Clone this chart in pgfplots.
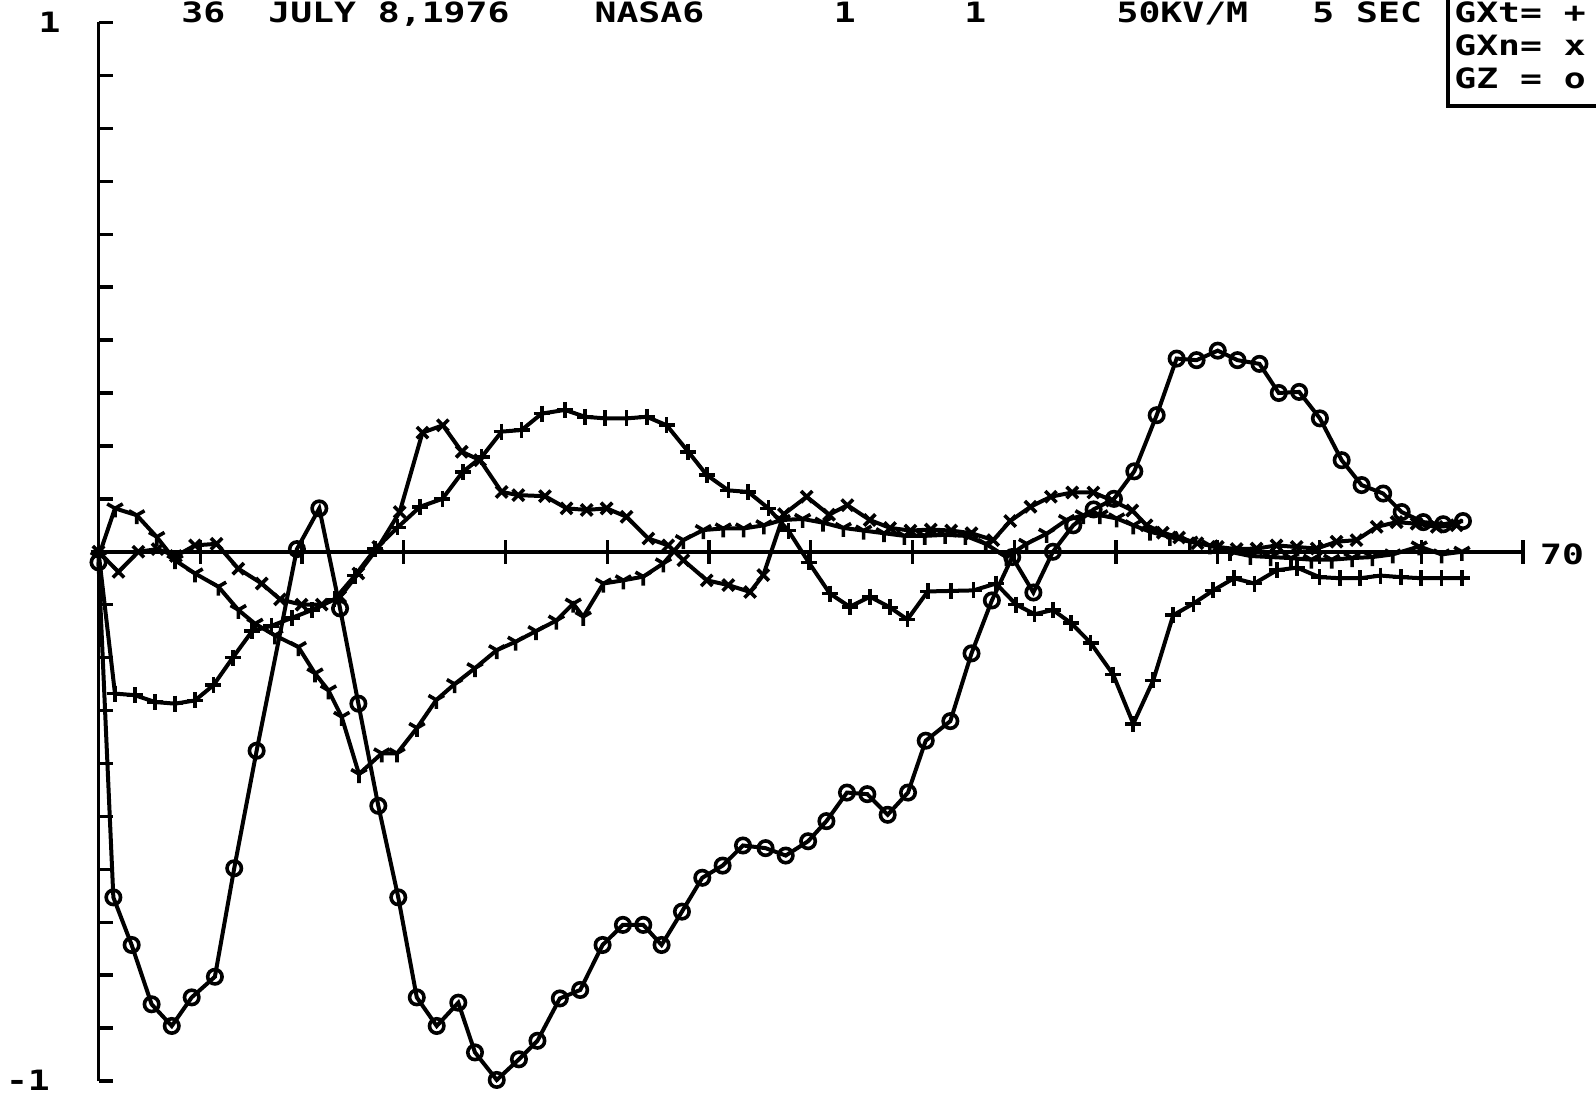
\documentclass[border=0pt]{standalone}
\usepackage{fontspec}
\usepackage{pgfplots}
\pgfplotsset{compat=1.18}
\usetikzlibrary{plotmarks}
\newfontfamily\plotfont[FakeStretch=1.3]{DejaVu Sans Mono}
\newcommand{\plf}{\plotfont\bfseries\fontsize{14}{16}\selectfont}
\begin{document}
\begin{tikzpicture}
\path (0pt,0pt) rectangle (798pt,547pt);
\begin{axis}[
  at={(49.25pt,6.5pt)}, anchor=south west,
  scale only axis, width=712.25pt, height=529.25pt,
  xmin=0, xmax=70, ymin=-1, ymax=1,
  hide axis, clip=false,
]
% axes
\draw[line width=1.8pt] (axis cs:0,-1) -- (axis cs:0,1);
\draw[line width=1.8pt] (axis cs:0,0) -- (axis cs:70,0);
\pgfplotsinvokeforeach{-1,-0.9,-0.8,-0.7,-0.6,-0.5,-0.4,-0.3,-0.2,-0.1,0,0.1,0.2,0.3,0.4,0.5,0.6,0.7,0.8,0.9,1}{
  \draw[line width=1.7pt] (axis cs:0,#1) -- ([xshift=7pt]axis cs:0,#1);
}
\pgfplotsinvokeforeach{5,10,15,20,25,30,35,40,45,50,55,60,65,70}{
  \draw[line width=1.7pt] ([yshift=-6pt]axis cs:#1,0) -- ([yshift=6pt]axis cs:#1,0);
}
% GZ (o)
\addplot[black, line width=2pt, mark=o, mark size=3.6pt, mark options={line width=1.8pt}] coordinates {
(0,-0.02) (0.73,-0.653) (1.63,-0.743) (2.61,-0.855) (3.60,-0.896) (4.58,-0.842)
(5.72,-0.803) (6.67,-0.598) (7.77,-0.376) (9.75,0.005) (10.85,0.082) (11.87,-0.107)
(12.77,-0.287) (13.75,-0.480) (14.73,-0.653) (15.64,-0.842) (16.62,-0.896) (17.68,-0.852)
(18.50,-0.946) (19.57,-0.998) (20.66,-0.959) (21.57,-0.924) (22.67,-0.844) (23.67,-0.828)
(24.77,-0.743) (25.77,-0.705) (26.77,-0.705) (27.67,-0.743) (28.67,-0.680) (29.67,-0.616)
(30.67,-0.593) (31.67,-0.555) (32.78,-0.560) (33.77,-0.574) (34.87,-0.547) (35.77,-0.509)
(36.78,-0.455) (37.78,-0.458) (38.78,-0.497) (39.78,-0.455) (40.65,-0.357) (41.86,-0.320)
(42.90,-0.192) (43.90,-0.092) (44.90,-0.010) (45.94,-0.077) (46.90,0.000) (47.90,0.050)
(48.90,0.080) (49.90,0.100) (50.90,0.152) (52.00,0.258) (52.98,0.365) (53.96,0.362)
(55.00,0.380) (55.97,0.362) (57.05,0.355) (58.00,0.300) (59.00,0.302) (60.02,0.252)
(61.09,0.173) (62.07,0.126) (63.13,0.110) (64.04,0.075) (65.10,0.056) (66.08,0.052) (67.05,0.058)
};
% GXt (+)
\addplot[black, line width=2pt, mark=+, mark size=4pt, mark options={line width=1.8pt}] coordinates {
(0,0.0) (0.81,-0.268) (1.79,-0.271) (2.78,-0.284) (3.76,-0.287) (4.74,-0.281)
(5.65,-0.252) (6.60,-0.200) (7.55,-0.150) (8.50,-0.140) (9.50,-0.125) (10.50,-0.110)
(11.60,-0.090) (12.60,-0.045) (13.60,0.005) (14.70,0.046) (15.80,0.085) (16.90,0.100)
(17.90,0.151) (18.83,0.179) (19.81,0.227) (20.79,0.230) (21.78,0.261) (22.92,0.268)
(23.91,0.255) (24.89,0.252) (25.95,0.252) (26.94,0.255) (27.92,0.239) (28.98,0.189)
(29.89,0.145) (30.95,0.116) (31.93,0.113) (32.92,0.082) (33.90,0.040) (34.90,-0.020)
(35.94,-0.079) (36.92,-0.104) (37.91,-0.085) (38.89,-0.105) (39.75,-0.128) (40.75,-0.075)
(41.90,-0.074) (43.00,-0.073) (44.10,-0.060) (45.10,-0.100) (46.00,-0.118) (46.90,-0.110)
(47.80,-0.135) (48.75,-0.172) (49.86,-0.232) (50.85,-0.325) (51.83,-0.243) (52.81,-0.120)
(53.80,-0.098) (54.78,-0.073) (55.80,-0.050) (56.80,-0.060) (57.90,-0.035) (58.90,-0.030)
(60.00,-0.048) (61.00,-0.050) (62.00,-0.050) (63.00,-0.045) (64.00,-0.048) (65.00,-0.050)
(66.00,-0.050) (67.00,-0.050)
};
% GXn (x)
\addplot[black, line width=2pt, mark=x, mark size=4pt, mark options={line width=1.8pt}] coordinates {
(0,0.0) (0.98,-0.038) (1.96,0.000) (2.90,0.005) (3.80,-0.008) (4.74,0.012)
(5.80,0.015) (6.87,-0.032) (8.02,-0.060) (8.92,-0.090) (9.98,-0.100) (10.97,-0.100)
(11.87,-0.085) (12.77,-0.041) (13.75,0.009) (14.80,0.075) (15.92,0.225) (16.92,0.239)
(17.85,0.189) (18.75,0.173) (19.81,0.113) (20.63,0.107) (21.94,0.105) (23.00,0.082)
(23.99,0.079) (24.97,0.082) (25.95,0.066) (27.02,0.025) (28.00,0.012) (28.74,-0.016)
(29.89,-0.054) (30.95,-0.063) (32.02,-0.076) (32.67,-0.044) (33.68,0.071) (34.80,0.104)
(35.90,0.070) (36.80,0.088) (37.90,0.060) (38.90,0.045) (39.90,0.040) (40.90,0.042)
(41.90,0.040) (42.90,0.035) (43.97,0.022) (44.80,0.058) (45.80,0.085) (46.80,0.104)
(47.85,0.112) (48.89,0.112) (49.80,0.097) (50.80,0.078) (51.50,0.050) (52.30,0.036)
(53.10,0.027) (54.00,0.016) (55.00,0.009) (55.93,0.005) (56.91,0.006) (57.89,0.012)
(58.88,0.009) (59.86,0.006) (60.84,0.019) (61.82,0.022) (62.81,0.047) (63.79,0.056)
(64.77,0.053) (65.76,0.047) (66.74,0.050)
};
% fourth trace (y)
\addplot[black, line width=2pt, mark=Mercedes star flipped, mark size=4.5pt, mark options={line width=1.8pt}] coordinates {
(0,-0.010) (0.81,0.082) (1.88,0.069) (2.86,0.028) (3.76,-0.016) (4.74,-0.041)
(5.89,-0.066) (6.87,-0.110) (7.69,-0.136) (8.67,-0.158) (9.82,-0.180) (10.64,-0.230)
(11.30,-0.262) (11.95,-0.312) (12.80,-0.420) (13.92,-0.381) (14.67,-0.381) (15.65,-0.333)
(16.60,-0.280) (17.50,-0.250) (18.50,-0.220) (19.57,-0.186) (20.50,-0.170) (21.50,-0.150)
(22.50,-0.130) (23.33,-0.098) (23.82,-0.123) (24.81,-0.060) (25.79,-0.054) (26.77,-0.047)
(27.76,-0.022) (28.74,0.022) (29.72,0.041) (30.70,0.044) (31.70,0.044) (32.70,0.050)
(33.60,0.060) (34.60,0.062) (35.60,0.055) (36.60,0.045) (37.60,0.040) (38.60,0.035)
(39.60,0.030) (40.60,0.030) (41.60,0.032) (42.60,0.030) (43.60,0.015) (44.62,-0.010)
(45.61,0.015) (46.59,0.034) (47.57,0.060) (48.39,0.069) (49.21,0.069) (50.03,0.063)
(50.85,0.050) (51.67,0.038) (52.65,0.028) (53.63,0.019) (54.61,0.012) (55.60,0.000)
(56.60,-0.008) (57.60,-0.010) (58.60,-0.012) (59.60,-0.015) (60.60,-0.015) (61.60,-0.012)
(62.60,-0.010) (63.60,-0.005) (64.90,0.010) (66.00,-0.005) (67.00,0.000)
};
\end{axis}
% axis labels
\node[anchor=base, inner sep=0] at (24.75pt,530.5pt) {\plf 1};
\node[anchor=base, inner sep=0] at (14pt,2pt) {\plf -1};
\node[anchor=base, inner sep=0] at (781pt,265pt) {\plf 70};
% title line
\begin{scope}[overlay]
\node[anchor=base west, inner sep=0] at (90.5pt,535.5pt) {\plf 36};
\node[anchor=base west, inner sep=0] at (134pt,535.5pt) {\plf JULY 8,1976};
\node[anchor=base west, inner sep=0] at (297.1pt,535.5pt) {\plf NASA6};
\node[anchor=base west, inner sep=0] at (416.75pt,535.5pt) {\plf 1};
\node[anchor=base west, inner sep=0] at (482pt,535.5pt) {\plf 1};
\node[anchor=base west, inner sep=0] at (558.1pt,535.5pt) {\plf 50KV/M};
\node[anchor=base west, inner sep=0] at (656pt,535.5pt) {\plf 5 SEC};
% legend box (cut by the page edge)
\draw[line width=1.6pt] (724pt,547pt) -- (724pt,494pt) -- (798pt,494pt);
\node[anchor=base west, inner sep=0] at (727pt,535.5pt) {\plf GXt= +};
\node[anchor=base west, inner sep=0] at (727pt,519pt) {\plf GXn= x};
\node[anchor=base west, inner sep=0] at (727pt,502.5pt) {\plf GZ = o};
\end{scope}
\end{tikzpicture}
\end{document}
